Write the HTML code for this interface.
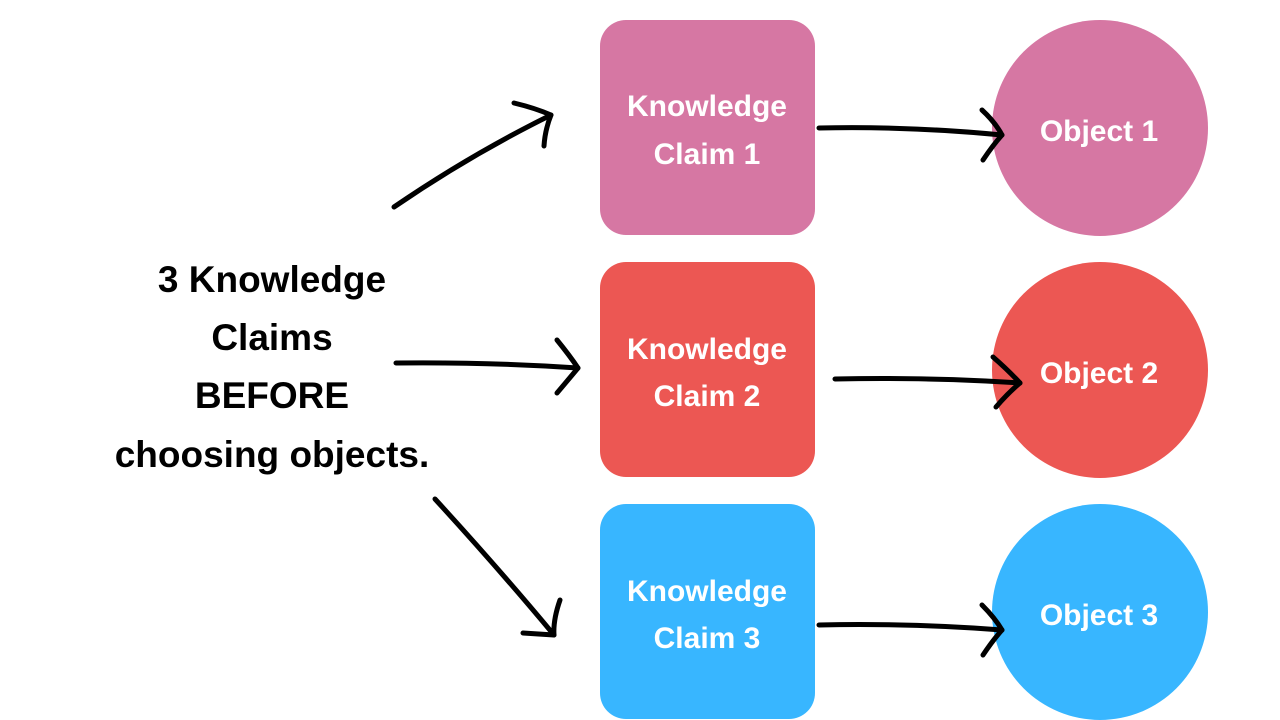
<!DOCTYPE html>
<html><head><meta charset="utf-8"><style>
html,body{margin:0;padding:0;background:#fff;}
svg{display:block}
text{font-family:"Liberation Sans",sans-serif;font-weight:bold;}
</style></head><body>
<svg width="1280" height="720" viewBox="0 0 1280 720" xmlns="http://www.w3.org/2000/svg">
<rect width="1280" height="720" fill="#fff"/>
<rect x="600" y="20" width="215" height="215" rx="26" fill="#D677A3"/>
<rect x="600" y="262" width="215" height="215" rx="26" fill="#EC5753"/>
<rect x="600" y="504" width="215" height="215" rx="26" fill="#38B6FF"/>
<circle cx="1100" cy="128" r="108" fill="#D677A3"/>
<circle cx="1100" cy="370" r="108" fill="#EC5753"/>
<circle cx="1100" cy="612" r="108" fill="#38B6FF"/>
<g fill="#fff" font-size="30" text-anchor="middle">
<text x="707" y="116">Knowledge</text><text x="707" y="164">Claim 1</text>
<text x="707" y="359">Knowledge</text><text x="707" y="406">Claim 2</text>
<text x="707" y="601">Knowledge</text><text x="707" y="648">Claim 3</text>
<text x="1099" y="141">Object 1</text>
<text x="1099" y="383">Object 2</text>
<text x="1099" y="625">Object 3</text>
</g>
<g fill="#000" font-size="37" text-anchor="middle">
<text x="272" y="292">3 Knowledge</text>
<text x="272" y="350">Claims</text>
<text x="272" y="408">BEFORE</text>
<text x="272" y="467">choosing objects.</text>
</g>
<g stroke="#000" stroke-width="5" fill="none" stroke-linecap="round" stroke-linejoin="round">
<path d="M394 207 Q470 155 551 115"/><path d="M514 103 Q535 108 551 115 Q545 130 544 146"/>
<path d="M396 363 Q490 362 578 368"/><path d="M557 340 Q570 356 578 368 Q568 380 557 393"/>
<path d="M435 499 Q500 570 554 635"/><path d="M523 633 L554 635 Q553 620 560 600"/>
<path d="M819 128 Q910 126 1002 135"/><path d="M982 110 Q995 122 1002 135 Q993 145 983 160"/>
<path d="M835 379 Q930 377 1020 383"/><path d="M993 357 Q1008 370 1020 383 Q1008 393 996 407"/>
<path d="M819 625 Q910 623 1002 630"/><path d="M982 605 Q995 618 1002 630 Q993 640 983 655"/>
</g>
</svg>
</body></html>
